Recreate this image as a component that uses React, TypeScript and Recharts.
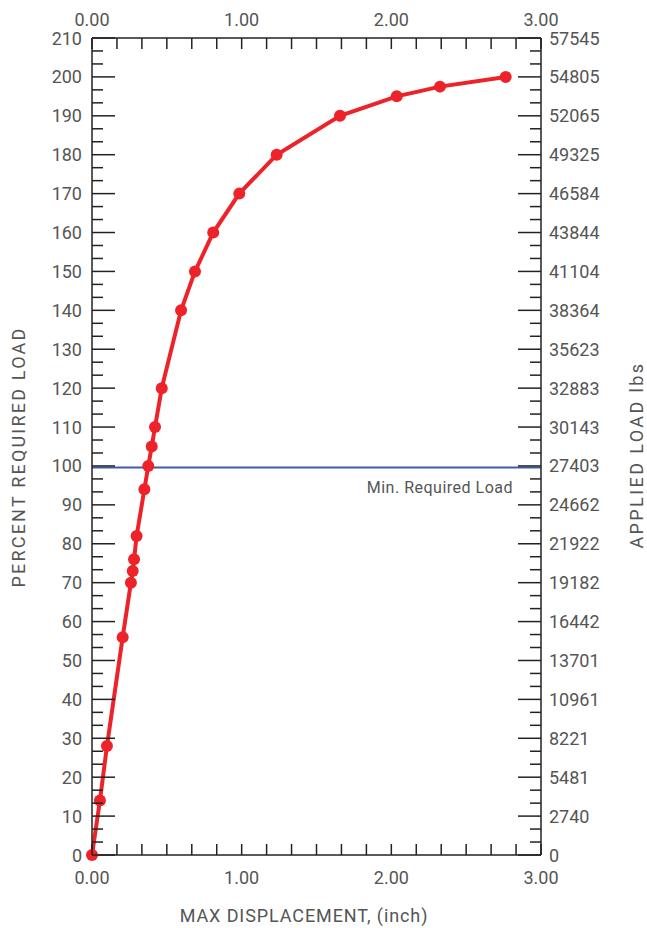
import { LineChart, Line, XAxis, YAxis, ReferenceLine } from 'recharts';

// load test readings: max displacement (inch) vs percent of required load
const displacement = [
  0, 0.053, 0.1, 0.205, 0.26, 0.272, 0.281, 0.298, 0.35, 0.376, 0.399, 0.421,
  0.466, 0.595, 0.688, 0.81, 0.984, 1.234, 1.657, 2.036, 2.325, 2.764,
];
const percentLoad = [
  0, 14, 28, 56, 70, 73, 76, 82, 94, 100, 105, 110, 120, 140, 150, 160, 170,
  180, 190, 195, 197.5, 200,
];
const minRequiredLoad = 99.6;

const xTickLabels = ['0.00', '1.00', '2.00', '3.00'];
const percentTickLabels = [
  '0', '10', '20', '30', '40', '50', '60', '70', '80', '90', '100', '110',
  '120', '130', '140', '150', '160', '170', '180', '190', '200', '210',
];
const loadTickLabels = [
  '0', '2740', '5481', '8221', '10961', '13701', '16442', '19182', '21922',
  '24662', '27403', '30143', '32883', '35623', '38364', '41104', '43844',
  '46584', '49325', '52065', '54805', '57545',
];

const data = displacement.map((x, i) => ({ x, y: percentLoad[i] }));

// minor ticks: 6 per inch, 3 per 10%
const xTicks = Array.from({ length: 19 }, (_, i) => i / 6);
const yTicks = Array.from({ length: 64 }, (_, i) => (i * 10) / 3);

const FONT = 'Roboto, "DejaVu Sans", sans-serif';
const GREY = '#555';
const AXIS = '#222';

function XTick(props: any) {
  const { x, y, payload, side } = props;
  const i = Math.round(payload.value * 6);
  const major = i % 6 === 0;
  const top = side === 'top';
  return (
    <g>
      <line x1={x} x2={x} y1={y} y2={top ? y + 11 : y - 11} stroke={AXIS} strokeWidth={1.5} />
      {major && (
        <text
          x={x}
          y={top ? y - 12.5 : y + 29}
          textAnchor="middle"
          fontFamily={FONT}
          fontSize={18}
          fill={GREY}
        >
          {xTickLabels[i / 6]}
        </text>
      )}
    </g>
  );
}

function YTick(props: any) {
  const { x, y, payload, side } = props;
  const i = Math.round((payload.value * 3) / 10);
  const major = i % 3 === 0;
  const len = major ? 23 : 11;
  const left = side === 'left';
  const labels = left ? percentTickLabels : loadTickLabels;
  return (
    <g>
      <line x1={x} x2={left ? x + len : x - len} y1={y} y2={y} stroke={AXIS} strokeWidth={1.5} />
      {major && (
        <text
          x={left ? x - 10 : x + 8}
          y={y + 6.5}
          textAnchor={left ? 'end' : 'start'}
          fontFamily={FONT}
          fontSize={18}
          fill={GREY}
        >
          {labels[i / 3]}
        </text>
      )}
    </g>
  );
}

export default function App() {
  return (
    <div style={{ position: 'absolute', left: 0, top: 0 }}>
      <LineChart
        width={647}
        height={928}
        data={data}
        margin={{ top: 8, right: 46, bottom: 43, left: 32 }}
      >
        <XAxis
          dataKey="x"
          type="number"
          domain={[0, 3]}
          ticks={xTicks}
          interval={0}
          height={30}
          tickSize={0}
          tickMargin={0}
          axisLine={{ stroke: AXIS, strokeWidth: 1.5 }}
          tickLine={false}
          tick={(p: any) => <XTick {...p} side="bottom" />}
          label={{
            content: ({ viewBox }: any) => (
              <text
                x={viewBox.x + 212}
                y={viewBox.y + 67}
                textAnchor="middle"
                fontFamily={FONT}
                fontSize={18}
                letterSpacing={0.9}
                fill={GREY}
              >
                MAX DISPLACEMENT, (inch)
              </text>
            ),
          }}
        />
        <XAxis
          xAxisId="top"
          orientation="top"
          dataKey="x"
          type="number"
          domain={[0, 3]}
          ticks={xTicks}
          interval={0}
          height={30}
          tickSize={0}
          tickMargin={0}
          axisLine={{ stroke: AXIS, strokeWidth: 1.5 }}
          tickLine={false}
          tick={(p: any) => <XTick {...p} side="top" />}
        />
        <YAxis
          dataKey="y"
          type="number"
          domain={[0, 210]}
          ticks={yTicks}
          interval={0}
          width={60}
          tickSize={0}
          tickMargin={0}
          axisLine={{ stroke: AXIS, strokeWidth: 1.5 }}
          tickLine={false}
          tick={(p: any) => <YTick {...p} side="left" />}
          label={{
            content: ({ viewBox }: any) => {
              const cx = viewBox.x + viewBox.width - 67;
              const cy = viewBox.y + 419;
              return (
                <text
                  x={cx}
                  y={cy}
                  transform={`rotate(-90 ${cx} ${cy})`}
                  textAnchor="middle"
                  fontFamily={FONT}
                  fontSize={18}
                  letterSpacing={2.2}
                  fill={GREY}
                >
                  PERCENT REQUIRED LOAD
                </text>
              );
            },
          }}
        />
        <YAxis
          yAxisId="right"
          orientation="right"
          dataKey="y"
          type="number"
          domain={[0, 210]}
          ticks={yTicks}
          interval={0}
          width={60}
          tickSize={0}
          tickMargin={0}
          axisLine={{ stroke: AXIS, strokeWidth: 1.5 }}
          tickLine={false}
          tick={(p: any) => <YTick {...p} side="right" />}
          label={{
            content: ({ viewBox }: any) => {
              const cx = viewBox.x + 102;
              const cy = viewBox.y + 417;
              return (
                <text
                  x={cx}
                  y={cy}
                  transform={`rotate(-90 ${cx} ${cy})`}
                  textAnchor="middle"
                  fontFamily={FONT}
                  fontSize={18}
                  letterSpacing={2.4}
                  fill={GREY}
                >
                  APPLIED LOAD lbs
                </text>
              );
            },
          }}
        />
        <ReferenceLine
          y={minRequiredLoad}
          stroke="#3e5ca8"
          strokeWidth={2}
          label={{
            content: ({ viewBox }: any) => (
              <text
                x={viewBox.x + viewBox.width - 28}
                y={viewBox.y + 25}
                textAnchor="end"
                fontFamily={FONT}
                fontSize={16}
                letterSpacing={0.5}
                fill={GREY}
              >
                Min. Required Load
              </text>
            ),
          }}
        />
        <Line
          type="linear"
          dataKey="y"
          stroke="#ee2229"
          strokeWidth={4}
          dot={{ r: 6, fill: '#ee2229', stroke: 'none' }}
          activeDot={false}
          isAnimationActive={false}
        />
      </LineChart>
    </div>
  );
}
